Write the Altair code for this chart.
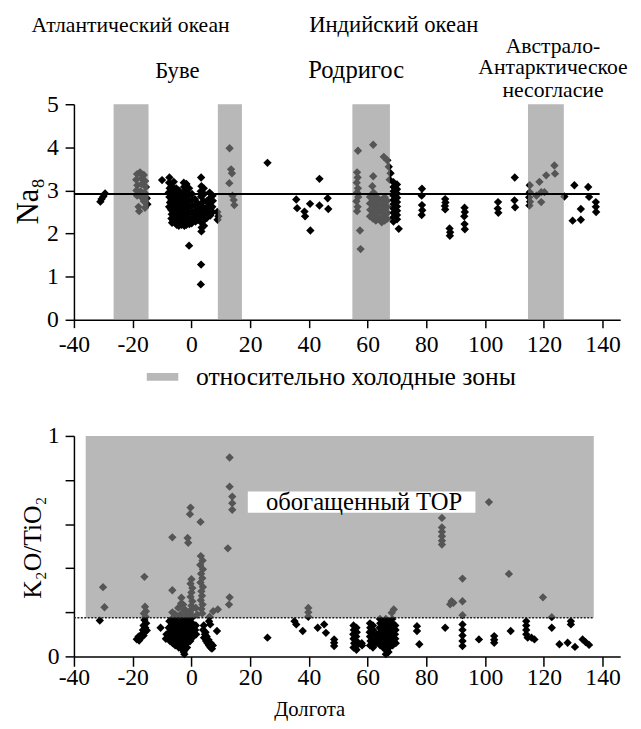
import altair as alt
import pandas as pd

FONT = "Liberation Serif"

# ---------------- data ----------------
# Na8 versus longitude
na_points = [
    (-31.0, 2.74), (-30.6, 2.80), (-30.0, 2.86), (-29.4, 2.93),
    (-18.5, 3.38), (-17.5, 3.42), (-16.2, 3.36), (-18.8, 3.25), (-17.0, 3.28), (-15.8, 3.22),
    (-18.4, 3.12), (-16.9, 3.15), (-15.5, 3.08), (-18.7, 3.00), (-17.3, 2.98), (-16.0, 2.95),
    (-18.5, 2.88), (-17.0, 2.84), (-15.2, 2.82), (-16.2, 2.75), (-15.0, 2.68), (-18.0, 2.62),
    (-15.8, 2.60), (-17.8, 2.52),
    (-10.0, 3.24),
    (-7.5, 3.30), (-7.6, 3.18), (-7.4, 3.05), (-7.7, 2.95), (-7.5, 2.85), (-7.3, 2.72), (-7.6, 2.62),
    (-6.8, 3.10), (-6.7, 2.98), (-6.9, 2.88), (-6.8, 2.78), (-6.6, 2.66), (-6.9, 2.55), (-6.7, 2.45),
    (-6.8, 2.35), (-6.6, 2.25),
    (-6.0, 3.20), (-5.9, 3.02), (-6.1, 2.92), (-6.0, 2.80), (-5.8, 2.70), (-6.1, 2.58), (-5.9, 2.48),
    (-6.0, 2.38), (-6.2, 2.30),
    (-5.2, 3.05), (-5.1, 2.94), (-5.3, 2.84), (-5.2, 2.74), (-5.0, 2.62), (-5.3, 2.52), (-5.1, 2.42),
    (-5.2, 2.32), (-5.0, 2.20),
    (-4.3, 3.00), (-4.2, 2.88), (-4.4, 2.76), (-4.3, 2.64), (-4.1, 2.52), (-4.4, 2.40), (-4.2, 2.28),
    (-4.3, 2.18),
    (-3.5, 2.90), (-3.4, 2.78), (-3.6, 2.66), (-3.5, 2.54), (-3.3, 2.42), (-3.6, 2.30), (-3.4, 2.20),
    (-2.6, 3.18), (-2.5, 3.08), (-2.7, 2.95), (-2.6, 2.82), (-2.4, 2.70), (-2.7, 2.58), (-2.5, 2.45),
    (-2.6, 2.32), (-2.4, 2.18),
    (-1.7, 3.15), (-1.6, 3.02), (-1.8, 2.88), (-1.7, 2.74), (-1.5, 2.60), (-1.8, 2.46), (-1.6, 2.32),
    (-1.7, 2.20),
    (-0.8, 3.05), (-0.7, 2.90), (-0.9, 2.76), (-0.8, 2.62), (-0.6, 2.48), (-0.9, 2.34), (-0.7, 2.22),
    (-0.8, 1.72),
    (0.2, 2.92), (0.3, 2.78), (0.1, 2.64), (0.2, 2.50), (0.4, 2.36), (0.1, 2.24),
    (1.2, 2.80), (1.3, 2.66), (1.1, 2.52), (1.2, 2.40), (1.4, 2.28),
    (2.2, 2.70), (2.3, 2.56), (2.1, 2.44), (2.2, 2.32),
    (3.3, 3.30), (3.4, 3.10), (3.2, 2.98), (3.3, 2.86), (3.5, 2.64), (3.2, 2.50), (3.4, 2.38),
    (3.3, 2.26), (3.5, 2.14), (3.4, 2.05), (3.3, 1.28), (3.2, 0.82),
    (4.2, 3.05), (4.3, 2.92), (4.1, 2.75), (4.2, 2.58), (4.4, 2.44), (4.1, 2.30), (4.3, 2.18),
    (5.2, 2.75), (5.3, 2.62), (5.1, 2.48), (5.2, 2.36),
    (6.2, 2.95), (6.3, 2.82), (6.1, 2.70), (6.2, 2.56), (6.4, 2.42),
    (7.2, 2.88), (7.3, 2.76), (7.1, 2.62), (7.2, 2.50),
    (8.8, 2.50), (9.2, 2.40), (8.9, 2.32),
    (13.0, 3.98), (13.5, 3.49), (13.8, 3.40), (12.9, 3.17), (14.0, 2.88), (14.4, 2.78), (14.6, 2.66),
    (25.9, 3.64),
    (35.7, 2.79), (36.0, 2.59), (38.5, 2.51), (38.7, 2.40), (40.4, 2.69), (40.5, 2.07),
    (43.6, 2.65), (43.6, 3.27), (46.4, 2.82), (46.6, 2.57),
    (56.7, 3.92), (56.4, 3.42), (56.6, 3.30), (56.3, 3.18), (56.7, 3.05), (56.4, 2.95), (56.8, 2.85),
    (56.2, 2.75), (56.6, 2.62), (56.4, 2.52), (57.4, 2.07), (57.6, 1.64),
    (61.9, 4.06), (61.9, 3.33), (61.6, 3.10), (62.0, 2.95),
    (60.8, 2.85), (60.8, 2.70), (60.9, 2.55), (60.8, 2.40), (61.8, 2.80), (61.8, 2.65), (61.9, 2.50),
    (61.8, 2.35), (62.8, 2.85), (62.8, 2.72), (62.9, 2.58), (62.8, 2.44), (62.8, 2.30), (63.8, 2.80),
    (63.8, 2.66), (63.9, 2.52), (63.8, 2.38), (64.8, 2.78), (64.8, 2.64), (64.9, 2.50), (64.8, 2.36),
    (64.8, 2.26), (65.8, 2.84), (65.8, 2.70), (65.9, 2.56), (65.8, 2.42), (65.8, 2.30), (66.6, 2.76),
    (66.6, 2.62), (66.7, 2.48), (66.6, 2.34),
    (65.5, 3.78), (66.7, 3.70), (67.2, 3.55), (67.8, 3.40), (67.5, 3.25),
    (68.8, 3.19), (68.8, 3.08), (68.8, 2.98), (68.8, 2.88), (68.8, 2.78), (68.8, 2.68), (68.8, 2.58),
    (68.8, 2.48), (68.8, 2.38), (68.8, 2.28),
    (70.0, 3.14), (70.0, 3.03), (70.0, 2.93), (70.0, 2.83), (70.0, 2.73), (70.0, 2.63), (70.0, 2.53),
    (70.0, 2.43), (70.0, 2.33), (70.6, 2.11),
    (78.5, 3.04), (78.4, 2.88), (78.5, 2.66), (78.6, 2.54), (78.4, 2.43),
    (86.4, 2.80), (86.5, 2.72), (86.3, 2.64), (86.4, 2.56),
    (87.9, 2.12), (88.1, 2.03), (88.0, 1.95),
    (93.0, 2.60), (93.1, 2.50), (92.9, 2.40), (93.0, 2.22), (93.1, 2.10),
    (104.4, 2.73), (104.3, 2.58), (104.5, 2.48),
    (110.1, 3.30), (110.0, 2.77), (110.2, 2.61),
    (115.2, 3.12), (115.2, 2.96), (115.0, 2.84), (115.3, 2.74), (115.1, 2.65), (118.5, 3.20),
    (119.1, 2.96), (119.1, 2.73), (120.8, 3.35), (123.6, 3.58), (123.8, 3.39), (120.2, 2.96),
    (117.5, 2.88),
    (127.0, 2.86), (130.4, 3.12), (129.8, 2.30), (132.6, 2.57), (132.6, 2.32), (135.1, 3.08),
    (135.4, 2.85), (137.7, 2.73), (137.7, 2.62), (137.8, 2.50),
]

# K2O/TiO2 versus longitude
k_points = [
    (-31.2, 0.163), (-29.6, 0.223), (-30.1, 0.314), (-16.0, 0.361),
    (-15.8, 0.225), (-15.5, 0.205), (-16.2, 0.195), (-15.6, 0.180), (-16.0, 0.165), (-15.4, 0.150),
    (-16.3, 0.140), (-15.7, 0.130), (-16.5, 0.120), (-15.9, 0.110), (-17.0, 0.100), (-16.3, 0.095),
    (-18.0, 0.090), (-17.5, 0.085), (-18.6, 0.078), (-17.8, 0.072), (-16.8, 0.090), (-15.2, 0.118),
    (-10.5, 0.130), (-6.5, 0.540), (-6.5, 0.300),
    (-8.5, 0.10), (-8.7, 0.08),
    (-7.5, 0.16), (-7.7, 0.13), (-7.4, 0.11), (-7.6, 0.09), (-7.3, 0.07),
    (-6.5, 0.20), (-6.7, 0.17), (-6.4, 0.14), (-6.6, 0.12), (-6.3, 0.10), (-6.6, 0.08), (-6.4, 0.06),
    (-5.5, 0.19), (-5.7, 0.16), (-5.4, 0.14), (-5.6, 0.12), (-5.3, 0.10), (-5.6, 0.08), (-5.4, 0.06),
    (-5.5, 0.05),
    (-4.5, 0.22), (-4.7, 0.18), (-4.4, 0.15), (-4.6, 0.13), (-4.3, 0.11), (-4.6, 0.09), (-4.4, 0.07),
    (-4.5, 0.05), (-4.3, 0.04),
    (-3.5, 0.24), (-3.7, 0.19), (-3.4, 0.16), (-3.6, 0.14), (-3.3, 0.12), (-3.6, 0.10), (-3.4, 0.08),
    (-3.5, 0.06), (-3.3, 0.04), (-3.0, 0.03),
    (-2.5, 0.21), (-2.7, 0.17), (-2.4, 0.15), (-2.6, 0.13), (-2.3, 0.11), (-2.6, 0.09), (-2.4, 0.07),
    (-2.5, 0.05), (-2.3, 0.03), (-2.6, 0.02), (-2.4, 0.01),
    (-1.5, 0.19), (-1.7, 0.16), (-1.4, 0.14), (-1.6, 0.12), (-1.3, 0.10), (-1.6, 0.08), (-1.4, 0.06),
    (-1.5, 0.04),
    (-0.5, 0.20), (-0.7, 0.17), (-0.4, 0.15), (-0.6, 0.13), (-0.3, 0.11), (-0.6, 0.09), (-0.4, 0.07),
    (0.5, 0.18), (0.3, 0.15), (0.6, 0.13), (0.4, 0.11), (0.7, 0.09),
    (1.5, 0.14), (1.3, 0.12), (1.6, 0.10),
    (-0.5, 0.645), (-0.3, 0.675), (3.1, 0.610), (-1.3, 0.537), (-1.1, 0.515),
    (0.0, 0.350), (-0.3, 0.330), (0.3, 0.310), (0.0, 0.290), (-0.3, 0.270), (0.3, 0.250),
    (0.0, 0.230), (-0.2, 0.210),
    (3.2, 0.455), (3.8, 0.435), (3.0, 0.415), (3.9, 0.395), (3.3, 0.375), (3.7, 0.355), (3.1, 0.335),
    (3.9, 0.315), (3.4, 0.295), (3.6, 0.275), (3.2, 0.255), (3.8, 0.235), (3.4, 0.215), (3.7, 0.195),
    (-3.4, 0.266), (-2.8, 0.235), (-2.0, 0.210), (1.5, 0.220), (2.0, 0.190),
    (6.2, 0.180), (6.0, 0.160), (6.4, 0.145), (7.4, 0.205), (9.0, 0.213), (8.7, 0.115),
    (4.2, 0.140), (4.0, 0.120), (4.6, 0.100), (4.3, 0.085), (5.0, 0.070), (5.5, 0.060), (6.0, 0.050),
    (6.5, 0.040), (7.0, 0.035), (5.2, 0.090), (6.6, 0.060), (7.3, 0.050), (5.8, 0.075), (4.8, 0.110),
    (13.0, 0.902), (13.0, 0.770), (13.9, 0.725), (13.9, 0.695), (13.9, 0.665), (12.4, 0.490),
    (13.0, 0.268), (12.8, 0.235),
    (25.9, 0.085),
    (35.1, 0.160), (35.7, 0.145), (37.9, 0.115), (39.8, 0.220), (39.8, 0.200), (39.8, 0.180),
    (43.0, 0.130), (45.2, 0.145), (45.8, 0.107), (48.6, 0.077), (48.6, 0.062), (48.6, 0.047),
    (55.2, 0.14), (55.3, 0.12), (55.1, 0.10), (55.2, 0.08), (55.4, 0.06), (55.2, 0.04),
    (56.2, 0.13), (56.3, 0.11), (56.1, 0.09), (56.2, 0.07), (56.4, 0.05), (56.2, 0.03),
    (58.0, 0.06), (58.1, 0.05),
    (60.8, 0.15), (60.9, 0.13), (60.7, 0.11), (60.8, 0.09), (61.0, 0.07), (60.8, 0.05),
    (61.8, 0.14), (61.9, 0.12), (61.7, 0.10), (61.8, 0.08), (62.0, 0.06), (61.8, 0.04),
    (63.0, 0.10), (63.1, 0.08), (62.9, 0.06),
    (64.2, 0.17), (64.3, 0.15), (64.1, 0.13), (64.2, 0.11), (64.4, 0.09), (64.2, 0.07), (64.3, 0.05),
    (65.2, 0.16), (65.3, 0.14), (65.1, 0.12), (65.2, 0.10), (65.4, 0.08), (65.2, 0.06), (65.3, 0.04),
    (66.2, 0.17), (66.3, 0.15), (66.1, 0.13), (66.2, 0.11), (66.4, 0.09), (66.2, 0.07), (66.3, 0.05),
    (66.1, 0.03), (66.2, 0.01),
    (67.2, 0.16), (67.3, 0.14), (67.1, 0.12), (67.2, 0.10), (67.4, 0.08), (67.2, 0.06), (67.3, 0.04),
    (67.1, 0.02),
    (68.4, 0.17), (68.5, 0.15), (68.3, 0.13), (68.4, 0.11), (68.6, 0.09), (68.4, 0.07), (68.5, 0.05),
    (69.4, 0.14), (69.5, 0.12), (69.3, 0.10), (69.4, 0.08), (69.6, 0.06),
    (68.9, 0.213), (68.2, 0.198),
    (76.8, 0.137), (76.8, 0.115), (77.6, 0.055),
    (85.3, 0.628), (85.3, 0.585), (85.3, 0.565), (85.3, 0.545), (85.3, 0.525), (85.3, 0.507),
    (86.4, 0.130),
    (92.3, 0.353), (88.1, 0.236), (89.2, 0.243), (88.6, 0.250), (92.3, 0.250), (92.3, 0.187),
    (92.3, 0.145), (92.3, 0.120), (92.3, 0.095), (92.3, 0.070), (92.3, 0.047),
    (97.9, 0.077), (101.3, 0.700), (103.1, 0.092), (103.1, 0.075), (103.1, 0.062),
    (108.1, 0.374), (108.7, 0.115),
    (114.0, 0.160), (114.0, 0.140), (114.0, 0.120), (114.0, 0.100), (114.5, 0.085), (116.8, 0.077),
    (115.8, 0.085),
    (119.7, 0.268), (122.7, 0.178), (122.7, 0.130),
    (125.3, 0.055), (128.1, 0.062), (129.2, 0.160), (129.2, 0.145), (130.6, 0.043), (133.2, 0.077),
    (134.2, 0.065), (135.4, 0.052),
]

cold_zones = [(-26.5, -14.6), (9.0, 17.2), (54.8, 67.6), (114.6, 126.8)]
cold_label = "относительно холодные зоны"
na_mean = 2.92
na_line_end = 139
k_threshold = 0.175
enriched_zone = (-36.0, 137.0)
enriched_label = "обогащенный ТОР"
enriched_label_pos = (58.8, 0.662)
enriched_box = (19.2, 96.7, 0.652, 0.748)

atl_label = [("Атлантический океан", -20.7, 6.68)]
ind_label = [("Индийский океан", 68.9, 6.68)]
bouvet_label = [("Буве", -4.8, 5.61)]
rodr_label = [("Родригос", 56.1, 5.61)]
aad_labels = [("Австрало-", 123.1, 6.20), ("Антарктическое", 123.1, 5.69),
              ("несогласие", 123.1, 5.17)]

x_ticks = list(range(-40, 145, 5))
na_ticks = [0, 1, 2, 3, 4, 5]
k_ticks = [0, 0.1, 0.2, 0.3, 0.4, 0.5, 0.6, 0.7, 0.8, 0.9, 1.0]

ZONE_FILL = "#8b8b8b"
ZONE_OPACITY = 0.61
W = 555

# ---------------- frames ----------------
na_df = pd.DataFrame(na_points, columns=["lon", "val"])
k_df = pd.DataFrame(k_points, columns=["lon", "val"])
zones_df = pd.DataFrame(cold_zones, columns=["lon", "lon_end"])
zones_df["label"] = cold_label

x_scale = alt.Scale(domain=[-40, 146], nice=False, zero=False)
major_expr = "datum.value % 20 === 0 ? toString(datum.value) : ''"


def x_enc(field, size, pad, title=None, **kw):
    ax = alt.Axis(values=x_ticks, labelExpr=major_expr, tickSize=size, labelPadding=pad,
                  labelOverlap=False, labelFlush=False, labelFontSize=24, **kw)
    return alt.X(field, type="quantitative", scale=x_scale, axis=ax, title=title)


def label_layer(rows, size):
    df = pd.DataFrame(rows, columns=["text", "lon", "val"])
    return alt.Chart(df).mark_text(font=FONT, fontSize=size, align="center",
                                   baseline="alphabetic", color="black").encode(
        x="lon:Q", y="val:Q", text="text:N")


# ---------------- top panel ----------------
y_top = alt.Y("val:Q", scale=alt.Scale(domain=[0, 5], nice=False, zero=True),
              axis=alt.Axis(values=na_ticks, tickSize=9, labelPadding=7, labelFontSize=24,
                            labelOverlap=False, labelFlush=False,
                            titleX=-46, titleY=98, titleAlign="center", titleBaseline="middle",
                            titleFontSize=31),
              title="Na₈")

xt = x_enc("lon", 8, 5)

pts_top = alt.Chart(na_df).mark_point(shape="diamond", filled=True, color="black",
                                       size=72, opacity=1).encode(x=xt, y=y_top)

zones = alt.Chart(zones_df).mark_rect(opacity=ZONE_OPACITY).encode(
    x=xt, x2="lon_end:Q",
    y=alt.datum(0), y2=alt.datum(5),
    color=alt.Color("label:N", scale=alt.Scale(range=[ZONE_FILL]),
                    legend=alt.Legend(title=None, orient="none", legendX=74, legendY=261,
                                      symbolType="M-1,-0.25H1V0.25H-1Z", symbolSize=1024,
                                      symbolOpacity=ZONE_OPACITY, symbolStrokeWidth=0,
                                      labelFont=FONT, labelFontSize=26, labelOffset=18,
                                      labelLimit=600, labelColor="black")),
)

hline = alt.Chart(pd.DataFrame({"lon": [-40], "lon_end": [na_line_end], "val": [na_mean]})).mark_rule(
    color="black", strokeWidth=2).encode(x=xt, x2="lon_end:Q", y="val:Q")

top = alt.layer(
    pts_top, zones, hline,
    label_layer(atl_label, 22), label_layer(ind_label, 23),
    label_layer(bouvet_label, 23), label_layer(rodr_label, 25),
    label_layer(aad_labels, 22),
).properties(width=W, height=219)

# ---------------- bottom panel ----------------
y_bot = alt.Y("val:Q", scale=alt.Scale(domain=[0, 1], nice=False, zero=True),
              axis=alt.Axis(values=k_ticks, tickSize=9, labelPadding=6, labelFontSize=24,
                            labelExpr="datum.value == 0 || datum.value == 1 ? toString(datum.value) : ''",
                            labelOverlap=False, labelFlush=False,
                            titleX=-42, titleY=113, titleAlign="center", titleBaseline="middle",
                            titleFontSize=26),
              title="K₂O/TiO₂")

xb = x_enc("lon", 10, 0, title="Долгота", titleX=239, titleY=60, titleAlign="center",
           titleBaseline="alphabetic", titleFontSize=21)

pts_bot = alt.Chart(k_df).mark_point(shape="diamond", filled=True, color="black",
                                      size=72, opacity=1).encode(x=xb, y=y_bot)

shade = alt.Chart(pd.DataFrame({"lon": [enriched_zone[0]], "lon_end": [enriched_zone[1]],
                                "val": [k_threshold], "val_end": [1.0]})).mark_rect(
    color=ZONE_FILL, opacity=ZONE_OPACITY).encode(x=xb, x2="lon_end:Q", y="val:Q", y2="val_end:Q")

dash = alt.Chart(pd.DataFrame({"lon": [-40], "lon_end": [enriched_zone[1]], "val": [k_threshold]})).mark_rule(
    color="#222222", strokeWidth=1.5, strokeDash=[2, 1.5]).encode(x=xb, x2="lon_end:Q", y="val:Q")

box = alt.Chart(pd.DataFrame({"lon": [enriched_box[0]], "lon_end": [enriched_box[1]],
                              "val": [enriched_box[2]], "val_end": [enriched_box[3]]})).mark_rect(
    color="white", opacity=1).encode(x="lon:Q", x2="lon_end:Q", y="val:Q", y2="val_end:Q")

etext = alt.Chart(pd.DataFrame({"text": [enriched_label], "lon": [enriched_label_pos[0]],
                                "val": [enriched_label_pos[1]]})).mark_text(
    font=FONT, fontSize=25, align="center", baseline="alphabetic", color="black").encode(
    x="lon:Q", y="val:Q", text="text:N")

bottom = alt.layer(pts_bot, shade, dash, box, etext).properties(width=W, height=224)

chart = alt.vconcat(top, bottom, spacing=118, bounds="flush").resolve_legend(
    color="independent").properties(
    padding={"left": 5, "top": 0, "right": 5, "bottom": 5}, background="white"
).configure_view(strokeWidth=0).configure_axis(
    grid=False, domainColor="black", tickColor="black", labelColor="black", titleColor="black",
    domainWidth=1.5, tickWidth=1.5, labelFont=FONT, titleFont=FONT, titleFontWeight="normal",
)

chart.save("out.html", embed_options={"renderer": "svg", "actions": False})
